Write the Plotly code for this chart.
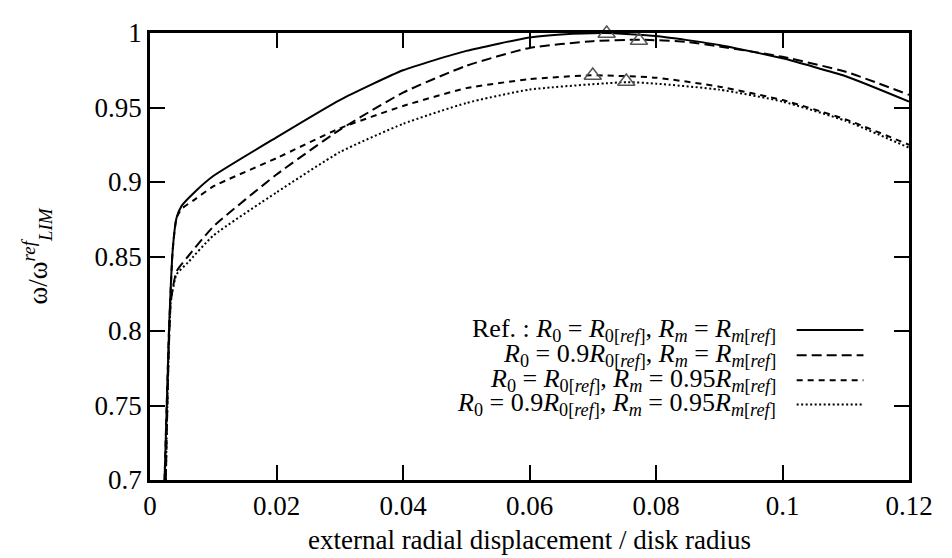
import plotly.graph_objects as go

# ---- data ----
x_ref = [0.0023, 0.0030, 0.0036, 0.0042, 0.005, 0.007, 0.01, 0.02, 0.03, 0.04, 0.05, 0.06, 0.065, 0.072, 0.08, 0.09, 0.10, 0.11, 0.12]
y_ref = [0.700, 0.800, 0.855, 0.876, 0.884, 0.893, 0.904, 0.930, 0.955, 0.975, 0.988, 0.997, 0.999, 1.000, 0.998, 0.992, 0.983, 0.971, 0.954]

x_r0 = [0.0025, 0.0033, 0.0042, 0.006, 0.01, 0.02, 0.03, 0.04, 0.05, 0.06, 0.07, 0.0775, 0.085, 0.09, 0.10, 0.11, 0.12]
y_r0 = [0.700, 0.820, 0.840, 0.850, 0.870, 0.905, 0.935, 0.960, 0.978, 0.990, 0.9945, 0.9955, 0.994, 0.991, 0.984, 0.974, 0.9585]

x_rm = [0.0023, 0.0030, 0.0036, 0.0042, 0.005, 0.007, 0.01, 0.02, 0.03, 0.04, 0.05, 0.06, 0.0696, 0.08, 0.09, 0.10, 0.11, 0.12]
y_rm = [0.700, 0.800, 0.855, 0.876, 0.882, 0.888, 0.897, 0.916, 0.936, 0.951, 0.963, 0.969, 0.9716, 0.970, 0.964, 0.955, 0.942, 0.925]

x_both = [0.0025, 0.0033, 0.0042, 0.006, 0.01, 0.02, 0.03, 0.04, 0.05, 0.06, 0.0754, 0.08, 0.09, 0.10, 0.11, 0.12]
y_both = [0.700, 0.820, 0.838, 0.846, 0.864, 0.893, 0.920, 0.939, 0.953, 0.962, 0.967, 0.966, 0.962, 0.954, 0.941, 0.923]

peak_x = [0.0722, 0.0773, 0.0700, 0.0753]
peak_y = [0.9997, 0.9950, 0.9715, 0.9675]

labels = [
    "Ref. : <i>R</i><sub>0</sub> = <i>R</i><sub>0[<i>ref</i>]</sub>, <i>R<sub>m</sub></i> = <i>R</i><sub><i>m</i>[<i>ref</i>]</sub>",
    "<i>R</i><sub>0</sub> = 0.9<i>R</i><sub>0[<i>ref</i>]</sub>, <i>R<sub>m</sub></i> = <i>R</i><sub><i>m</i>[<i>ref</i>]</sub>",
    "<i>R</i><sub>0</sub> = <i>R</i><sub>0[<i>ref</i>]</sub>, <i>R<sub>m</sub></i> = 0.95<i>R</i><sub><i>m</i>[<i>ref</i>]</sub>",
    "<i>R</i><sub>0</sub> = 0.9<i>R</i><sub>0[<i>ref</i>]</sub>, <i>R<sub>m</sub></i> = 0.95<i>R</i><sub><i>m</i>[<i>ref</i>]</sub>",
]
dashes = ["solid", "10px,5px", "6px,5px", "2px,2.5px"]

x_ticks = [0, 0.02, 0.04, 0.06, 0.08, 0.1, 0.12]
x_ticklabels = ["0", "0.02", "0.04", "0.06", "0.08", "0.1", "0.12"]
y_ticks = [0.7, 0.75, 0.8, 0.85, 0.9, 0.95, 1.0]
y_ticklabels = ["0.7", "0.75", "0.8", "0.85", "0.9", "0.95", "1"]

FONT = "Liberation Serif"
FS = 27

fig = go.Figure()
series = [(x_ref, y_ref), (x_r0, y_r0), (x_rm, y_rm), (x_both, y_both)]
for (xs, ys), d, lab in zip(series, dashes, labels):
    fig.add_trace(go.Scatter(x=xs, y=ys, mode="lines", name=lab, showlegend=False,
                             line=dict(color="black", width=2, dash=d, shape="spline", smoothing=0.5)))

fig.add_trace(go.Scatter(x=peak_x, y=peak_y, mode="markers", showlegend=False, cliponaxis=False,
                         marker=dict(symbol="triangle-up-open", size=15,
                                     color="#555555", line=dict(width=1.5, color="#555555"))))

# manual legend (text right-aligned, sample line to the right)
leg_y = [0.3355, 0.279, 0.223, 0.169]
for lab, d, yy in zip(labels, dashes, leg_y):
    fig.add_annotation(x=0.827, y=yy, xref="paper", yref="paper", text=lab, showarrow=False,
                       xanchor="right", yanchor="middle", font=dict(family=FONT, size=26, color="black"))
    fig.add_shape(type="line", xref="paper", yref="paper", x0=0.852, x1=0.940, y0=yy, y1=yy,
                  line=dict(color="black", width=2, dash=d))

axis_common = dict(showgrid=False, zeroline=False, showline=True, linecolor="black", linewidth=2.5,
                   mirror="ticks", ticks="inside", ticklen=15, tickwidth=2, tickcolor="black",
                   ticklabeloverflow="allow",
                   tickfont=dict(family=FONT, size=FS, color="black"))

fig.update_xaxes(range=[0, 0.12], tickvals=x_ticks, ticktext=x_ticklabels,
                 title=dict(text="external radial displacement / disk radius",
                            font=dict(family=FONT, size=FS, color="black"), standoff=10),
                 **axis_common)
fig.update_yaxes(range=[0.7, 1.0], tickvals=y_ticks, ticktext=y_ticklabels,
                 title=dict(text="ω/ω<sup><i>ref</i></sup><sub><i>LIM</i></sub>",
                            font=dict(family=FONT, size=FS, color="black"), standoff=40),
                 **axis_common)

fig.update_layout(width=952, height=558, margin=dict(l=142, r=51, t=10, b=86),
                  plot_bgcolor="white", paper_bgcolor="white",
                  font=dict(family=FONT, color="black"))

fig.write_html("out.html")
